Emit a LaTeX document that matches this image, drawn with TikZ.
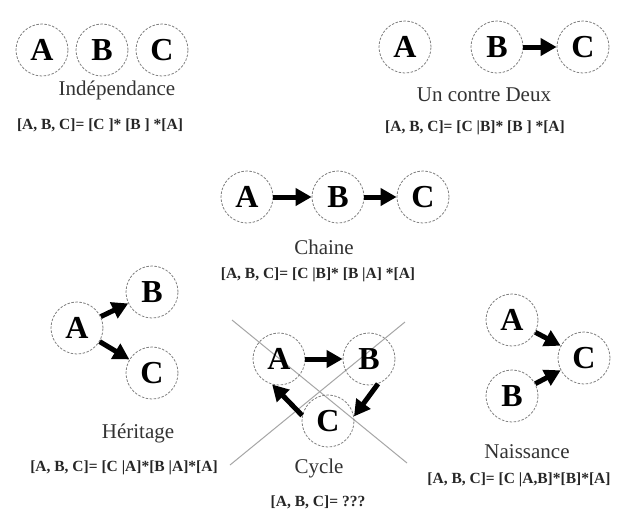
\documentclass[tikz,border=0pt]{standalone}
\usepackage{fontspec}
\setmainfont{Liberation Serif}
\usetikzlibrary{arrows.meta}

\tikzset{every picture/.style={line width=0.75pt}}
\tikzset{
  var/.style={circle, draw=gray, line width=0.8pt, dash pattern={on 2.5pt off 1.5pt}, minimum size=52pt, inner sep=0pt, font=\fontsize{32}{32}\selectfont\bfseries},
  lien/.style={line width=5pt, -{Triangle[length=16pt,width=17pt]}},
  titre/.style={inner sep=0.75pt, text=black!80, font=\fontsize{21}{21}\selectfont},
  formule/.style={inner sep=0.75pt, text=black!85, font=\fontsize{15.5}{15.5}\selectfont\bfseries},
  barre/.style={draw=gray!70, line width=1pt}
}

\begin{document}
\begin{tikzpicture}[x=1pt,y=1pt,yscale=-1]
	\useasboundingbox[fill=white] (0,0) rectangle (624,515);

	%Independance
	\node [var] (ia) at (42,50) {A};
	\node [var] (ib) at (102,50) {B};
	\node [var] (ic) at (162,50) {C};
	% Text Node
	\node [titre] (it) at (117,90) {Indépendance};
	% Text Node
	\node [formule] (if) at (100,125) {[A, B, C]= [C ]* [B ] *[A]};

	%Un contre Deux
	\node [var] (ua) at (405,47) {A};
	\node [var] (ub) at (497,47) {B};
	\node [var] (uc) at (583,47) {C};
	\draw [lien] (ub) -- (uc);
	% Text Node
	\node [titre] (ut) at (484,95) {Un contre Deux};
	% Text Node
	\node [formule] (uf) at (475,128) {[A, B, C]= [C |B]* [B ] *[A]};

	%Chaine
	\node [var] (ca) at (247,197) {A};
	\node [var] (cb) at (338,197) {B};
	\node [var] (cc) at (423,197) {C};
	\draw [lien] (ca) -- (cb);
	\draw [lien] (cb) -- (cc);
	% Text Node
	\node [titre] (ct) at (324,247) {Chaine};
	% Text Node
	\node [formule] (cf) at (318,275) {[A, B, C]= [C |B]* [B |A] *[A]};

	%Heritage
	\node [var] (ha) at (77,328) {A};
	\node [var] (hb) at (152,292) {B};
	\node [var] (hc) at (152,373) {C};
	\draw [lien] (ha) -- (hb);
	\draw [lien] (ha) -- (hc);
	% Text Node
	\node [titre] (ht) at (138,433) {Héritage};
	% Text Node
	\node [formule] (hf) at (124,468) {[A, B, C]= [C |A]*[B |A]*[A]};

	%Cycle
	\draw [barre] (232,320) -- (407,463);
	\draw [barre] (405,322) -- (230,465);
	\node [var] (ya) at (279,359) {A};
	\node [var] (yb) at (369,359) {B};
	\node [var] (yc) at (328,421) {C};
	\draw [lien] (ya) -- (yb);
	\draw [lien] (yb.290) -- (yc.10);
	\draw [lien] (yc.168) -- (ya.255);
	% Text Node
	\node [titre] (yt) at (319,468) {Cycle};
	% Text Node
	\node [formule] (yf) at (318,502) {[A, B, C]= ???};

	%Naissance
	\node [var] (na) at (512,320) {A};
	\node [var] (nb) at (512,396) {B};
	\node [var] (nc) at (584,358) {C};
	\draw [lien] (na) -- (nc);
	\draw [lien] (nb) -- (nc);
	% Text Node
	\node [titre] (nt) at (527,452) {Naissance};
	% Text Node
	\node [formule] (nf) at (519,480) {[A, B, C]= [C |A,B]*[B]*[A]};
\end{tikzpicture}
\end{document}
